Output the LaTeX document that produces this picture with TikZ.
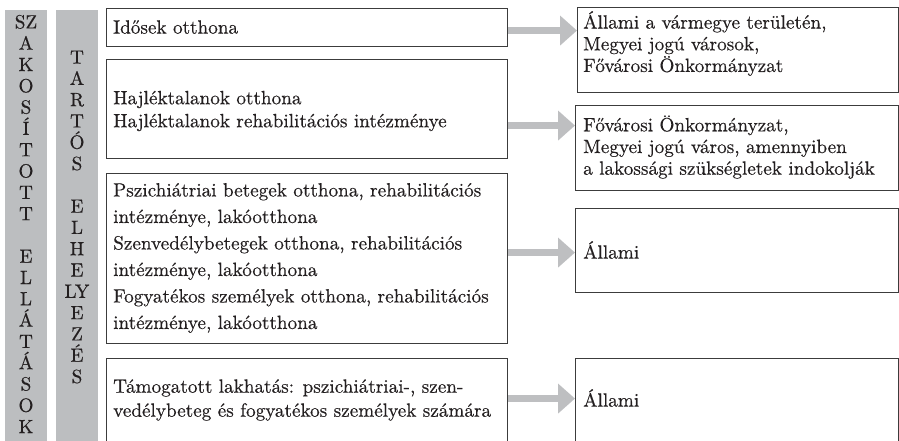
\documentclass[tikz,border=0pt]{standalone}
\usepackage{fontspec}
\setmainfont{lmroman10-regular.otf}[FakeBold=0.4]
\usetikzlibrary{arrows.meta}
\definecolor{bargray}{RGB}{188,190,192}
\definecolor{arrgray}{RGB}{190,191,193}
\definecolor{boxline}{RGB}{60,60,60}
\definecolor{txtc}{RGB}{35,31,32}
\begin{document}
\begin{tikzpicture}[x=1pt,y=-1pt,
  barbox/.style={fill=bargray, draw=none, inner sep=0pt, anchor=north west, minimum width=42pt, minimum height=436pt},
  boxn/.style={draw=boxline, line width=1.1pt, inner sep=0pt, anchor=north west},
  txtn/.style={text=txtc, inner sep=0pt, anchor=west, align=left, font=\fontsize{19.2}{21.7}\selectfont},
  letters/.style={text=txtc, inner sep=0pt, align=center, font=\fontsize{19.2}{21.3}\selectfont},
  bigarrow/.style={draw=arrgray, line width=7pt, -{Triangle[length=17pt,width=29pt]}}
]
\useasboundingbox (0,0) rectangle (899,440);

% vertical bars
\node[barbox] (bar1) at (5,10) {};
\node[barbox] (bar2) at (56,10) {};
\node[letters] (lab1) at (26,224) {SZ\\A\\K\\O\\S\\Í\\T\\O\\T\\T\\\mbox{}\\E\\L\\L\\Á\\T\\Á\\S\\O\\K};
\node[letters] (lab2) at (77,217) {T\\A\\R\\T\\Ó\\S\\\mbox{}\\E\\L\\H\\E\\LY\\E\\Z\\É\\S};

% left boxes
\node[boxn, minimum width=401pt, minimum height=38pt] (b1) at (106,8) {};
\node[boxn, minimum width=401pt, minimum height=99pt] (b2) at (106,59) {};
\node[boxn, minimum width=401pt, minimum height=170pt] (b3) at (106,173) {};
\node[boxn, minimum width=401pt, minimum height=86pt] (b4) at (106,358) {};

% right boxes
\node[boxn, minimum width=321pt, minimum height=85pt] (r1) at (577,7) {};
\node[boxn, minimum width=323pt, minimum height=85pt] (r2) at (575,105) {};
\node[boxn, minimum width=323pt, minimum height=84pt] (r3) at (575,208) {};
\node[boxn, minimum width=323pt, minimum height=86pt] (r4) at (575,358) {};

% texts
\node[txtn] (tb1) at (113,27) {Idősek otthona};
\node[txtn, font=\fontsize{19.2}{23}\selectfont] (tb2) at (113,111) {Hajléktalanok otthona\\Hajléktalanok rehabilitációs intézménye};
\node[txtn, font=\fontsize{19.2}{26.5}\selectfont] (tb3) at (113,258) {Pszichiátriai betegek otthona, rehabilitációs\\intézménye, lakóotthona\\Szenvedélybetegek otthona, rehabilitációs\\intézménye, lakóotthona\\Fogyatékos személyek otthona, rehabilitációs\\intézménye, lakóotthona};
\node[txtn, font=\fontsize{19.2}{24}\selectfont] (tb4) at (113,400) {Támogatott lakhatás: pszichiátriai-, szen-\\vedélybeteg és fogyatékos személyek számára};
\node[txtn] (tr1) at (583,43.5) {Állami a vármegye területén,\\Megyei jogú városok,\\Fővárosi Önkormányzat};
\node[txtn] (tr2) at (583,147) {Fővárosi Önkormányzat,\\Megyei jogú város, amennyiben\\a lakossági szükségletek indokolják};
\node[txtn] (tr3) at (583,250) {Állami};
\node[txtn] (tr4) at (583,398) {Állami};

% arrows
\coordinate (a1) at ([yshift=-3pt]b1.east);
\coordinate (a2) at ([yshift=-16.5pt]b2.east);
\coordinate (a3) at ([yshift=6pt]b3.east);
\coordinate (a4) at ([yshift=3pt]b4.east);
\draw[bigarrow] (a1) -- (a1 -| r1.west);
\draw[bigarrow] (a2) -- (a2 -| r2.west);
\draw[bigarrow] (a3) -- (a3 -| r3.west);
\draw[bigarrow] (a4) -- (a4 -| r4.west);
\end{tikzpicture}
\end{document}
